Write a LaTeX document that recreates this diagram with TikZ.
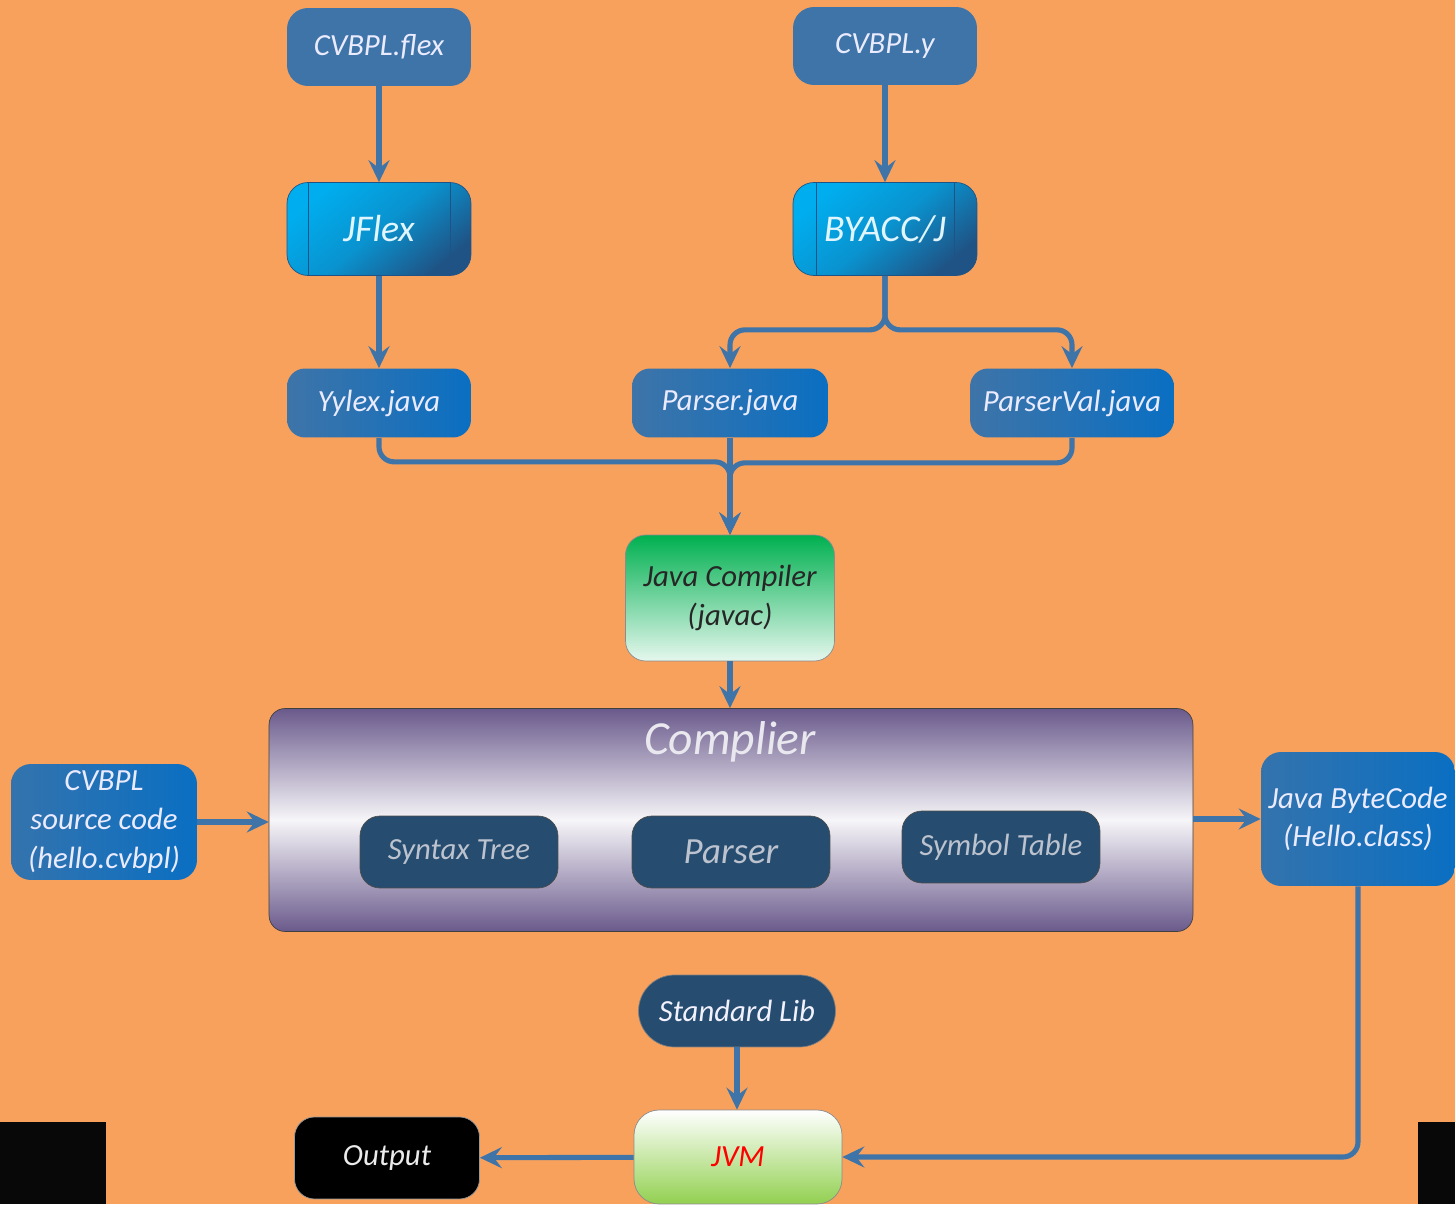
\documentclass[tikz,border=0pt]{standalone}
\usepackage{fontspec}
\setmainfont{Carlito}
\usetikzlibrary{positioning,arrows.meta,calc}
\usepackage{xcolor}

\definecolor{bgorange}{HTML}{F7A15D}
\definecolor{steel}{HTML}{3E74A8}
\definecolor{nodeblue}{HTML}{0A6FC2}
\definecolor{cyanish}{HTML}{00AEEF}
\definecolor{navy}{HTML}{1F5385}
\definecolor{slate}{HTML}{264C6F}
\definecolor{lilac}{HTML}{6A5A8C}
\definecolor{javagreen}{HTML}{00B050}
\definecolor{jvmgreen}{HTML}{92D050}
\definecolor{greytext}{HTML}{BCC3CF}

\begin{document}
\begin{tikzpicture}[x=0.02cm, y=-0.02cm,
    every node/.style={font=\itshape\fontsize{17.5}{21}\selectfont, align=center, inner sep=0pt},
    flow/.style={draw=steel, line width=2.9pt, rounded corners=0.3cm, -{Stealth[length=0.44cm, width=0.42cm, inset=0.16cm]}},
    src/.style={rounded corners=0.42cm, fill=steel, text=white!92!blue, minimum width=3.68cm, minimum height=1.56cm},
    tool/.style={rounded corners=0.42cm, draw=navy, top color=cyanish, bottom color=navy, middle color=cyanish!70!navy, shading angle=40, text=white!88!cyan, minimum width=3.68cm, minimum height=1.86cm, font=\itshape\fontsize{21.5}{25}\selectfont},
    java/.style={rounded corners=0.36cm, left color=steel, right color=nodeblue, text=white!92!blue, minimum height=1.38cm},
    io/.style={rounded corners=0.4cm, left color=steel!80!nodeblue, right color=nodeblue, text=white!92!blue, font=\itshape\fontsize{17.5}{22}\selectfont},
    part/.style={rounded corners=0.4cm, fill=slate, draw=black!70, text=greytext, minimum width=3.96cm, minimum height=1.44cm}]

    % background and corner blocks
    \fill[bgorange] (0,0) rectangle (1455,1204);
    \fill[black!97] (0,1122) rectangle (106,1204);
    \fill[black!97] (1418,1122) rectangle (1455,1204);

    % generators
    \node[src] (flex) at (379,47) {CVBPL.flex};
    \node[src] (yfile) at (885,46) {CVBPL.y};
    \node[tool] (jflex) at (379,229) {JFlex};
    \node[tool] (byacc) at (885,229) {BYACC/J};
    \draw[navy, thin] ($(jflex.north west)+(22,0)$) -- ($(jflex.south west)+(22,0)$);
    \draw[navy, thin] ($(jflex.north east)+(-21,0)$) -- ($(jflex.south east)+(-21,0)$);
    \draw[navy, thin] ($(byacc.north west)+(24,0)$) -- ($(byacc.south west)+(24,0)$);
    \draw[navy, thin] ($(byacc.north east)+(-23,0)$) -- ($(byacc.south east)+(-23,0)$);

    % generated sources
    \node[java, minimum width=3.68cm] (yylex) at (379,403) {Yylex.java};
    \node[java, minimum width=3.92cm] (pjava) at (730,403) {Parser.java};
    \node[java, minimum width=4.08cm] (pval) at (1072,403) {ParserVal.java};
    \node[rounded corners=0.4cm, draw=black!45, top color=javagreen, bottom color=white!90!javagreen, text=black!85, minimum width=4.18cm, minimum height=2.52cm, font=\itshape\fontsize{17.5}{22}\selectfont] (javac) at (730,598) {Java Compiler\\(javac)};

    % compiler
    \node[rounded corners=0.32cm, draw=black!75, top color=lilac, bottom color=lilac, middle color=white!94!lilac, minimum width=18.48cm, minimum height=4.46cm] (compiler) at (731,820) {};
    \node[text=white!86!lilac, font=\itshape\fontsize{27}{31}\selectfont] (ctitle) at (730,742) {Complier};
    \node[part] (stree) at (459,852) {Syntax Tree};
    \node[part, font=\itshape\fontsize{21}{25}\selectfont] (pinner) at (731,852) {Parser};
    \node[part] (symtab) at (1001,847) {Symbol Table};

    % input and output
    \node[io, minimum width=3.72cm, minimum height=2.32cm] (source) at (104,822) {CVBPL\\source code\\(hello.cvbpl)};
    \node[io, minimum width=3.88cm, minimum height=2.68cm] (bytecode) at (1358,819) {Java ByteCode\\(Hello.class)};
    \node[rounded corners=0.72cm, fill=slate, draw=black!50, text=white!95!blue, minimum width=3.94cm, minimum height=1.44cm] (stdlib) at (737,1011) {Standard Lib};
    \node[rounded corners=0.5cm, draw=black!45, top color=white, bottom color=jvmgreen, text=red, minimum width=4.16cm, minimum height=1.88cm] (jvm) at (738,1157) {JVM};
    \node[rounded corners=0.4cm, fill=black, draw=black!40, text=white!92!black, minimum width=3.7cm, minimum height=1.64cm] (output) at (387,1158) {Output};

    \draw[flow] (flex) -- (jflex);
    \draw[flow] (yfile) -- (byacc);
    \draw[flow] (jflex) -- (yylex);
    \draw[flow] (byacc.south) -- ++(0,54) -| (pjava.north);
    \draw[flow] (byacc.south) -- ++(0,54) -| (pval.north);
    \draw[flow] (yylex.south) -- ++(0,24) -| (javac.north);
    \draw[flow] (pval.south) -- ++(0,25) -| (javac.north);
    \draw[flow] (pjava.south) -- (javac.north);
    \draw[flow] (javac) -- (compiler.north -| javac);
    \draw[flow] (source) -- (compiler.west |- source);
    \draw[flow] (compiler.east |- bytecode) -- (bytecode);
    \draw[flow] (bytecode.south) |- (jvm.east);
    \draw[flow] (stdlib) -- (jvm.north -| stdlib);
    \draw[flow] (jvm) -- (output);
\end{tikzpicture}
\end{document}
